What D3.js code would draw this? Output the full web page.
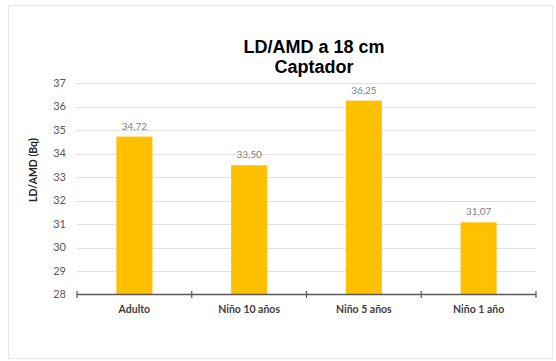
<!DOCTYPE html>
<html><head><meta charset="utf-8">
<script src="https://cdn.jsdelivr.net/npm/d3@7"></script>
<style>body{margin:0;background:#fff}svg{display:block}</style>
</head><body>
<script>
const categories = ["Adulto", "Niño 10 años", "Niño 5 años", "Niño 1 año"];
const values = [34.72, 33.50, 36.25, 31.07];
const yTicks = [28, 29, 30, 31, 32, 33, 34, 35, 36, 37];
const titleLines = ["LD/AMD a 18 cm", "Captador"];
const yTitle = "LD/AMD (Bq)";

const W = 556, H = 361;
const svg = d3.select("body").append("svg").attr("width", W).attr("height", H);
svg.append("rect").attr("x", 8.5).attr("y", 5.5).attr("width", 544).attr("height", 353)
  .attr("fill", "#fff").attr("stroke", "#e6e6e6");

const x = d3.scaleBand().domain(categories).range([77, 536]).paddingInner(0).paddingOuter(0);
const y = d3.scaleLinear().domain([28, 37]).range([294.5, 83]);

// gridlines
svg.append("g").selectAll("line").data(yTicks.slice(1)).join("line")
  .attr("x1", 77).attr("x2", 536).attr("y1", d => Math.round(y(d)) + 0.5).attr("y2", d => Math.round(y(d)) + 0.5)
  .attr("stroke", "#e0e0e0").attr("stroke-width", 1);

// y tick labels
svg.append("g").selectAll("text").data(yTicks).join("text")
  .attr("x", 66).attr("y", d => y(d)).attr("dy", "0.35em").attr("text-anchor", "end")
  .attr("font-family", "Lato, 'Open Sans', sans-serif").attr("font-size", 11).attr("fill", "#595959")
  .text(d => d);

// bars
const bw = x.bandwidth() * 0.314;
svg.append("g").selectAll("rect").data(values).join("rect")
  .attr("x", (d, i) => x(categories[i]) + (x.bandwidth() - bw) / 2)
  .attr("width", bw)
  .attr("y", d => y(d)).attr("height", d => y(28) - y(d))
  .attr("fill", "#FFC000");

// data labels
svg.append("g").selectAll("text").data(values).join("text")
  .attr("x", (d, i) => x(categories[i]) + x.bandwidth() / 2)
  .attr("y", d => y(d) - 7).attr("text-anchor", "middle")
  .attr("font-family", "Lato, 'Open Sans', sans-serif").attr("font-size", 10).attr("fill", "#7f7f7f")
  .text(d => d.toFixed(2).replace(".", ","));

// x axis
const gx = svg.append("g").attr("transform", `translate(0,${y(28)})`);
gx.append("line").attr("x1", 77).attr("x2", 536).attr("stroke", "#595959").attr("stroke-width", 1.3);
const bounds = categories.map(c => x(c)).concat([x.range()[1]]);
gx.selectAll("line.tk").data(bounds).join("line").attr("class", "tk")
  .attr("x1", d => d).attr("x2", d => d).attr("y1", -3.5).attr("y2", 3.5)
  .attr("stroke", "#595959").attr("stroke-width", 1.2);
gx.selectAll("text").data(categories).join("text")
  .attr("x", d => x(d) + x.bandwidth() / 2).attr("y", 18)
  .attr("text-anchor", "middle")
  .attr("font-family", "Lato, 'Open Sans', sans-serif").attr("font-weight", "bold").attr("font-size", 10.5)
  .attr("fill", "#404040").text(d => d);

// y title
svg.append("text").attr("transform", "translate(37,170) rotate(-90)")
  .attr("text-anchor", "middle")
  .attr("font-family", "Lato, 'Open Sans', sans-serif").attr("font-weight", "bold").attr("font-size", 10.5)
  .attr("fill", "#262626").text(yTitle);

// title
svg.append("g").selectAll("text").data(titleLines).join("text")
  .attr("x", 314).attr("y", (d, i) => 53 + i * 20).attr("text-anchor", "middle")
  .attr("font-family", "'Liberation Sans', Arial, sans-serif").attr("font-weight", "bold").attr("font-size", 18)
  .attr("fill", "#000").text(d => d);
</script>
</body></html>
